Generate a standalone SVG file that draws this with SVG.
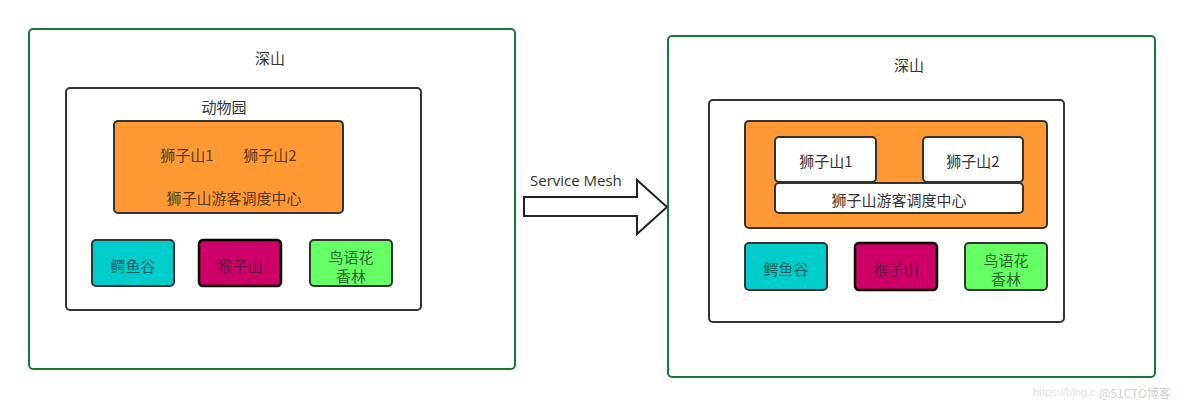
<svg xmlns="http://www.w3.org/2000/svg" width="1184" height="406" viewBox="0 0 1184 406">
<style>
text{font-family:"Microsoft YaHei","Noto Sans CJK SC",sans-serif;font-size:15px;text-anchor:middle;dominant-baseline:central;fill:#333}
.outer{fill:#fff;stroke:#137a3a;stroke-width:2}
.zoo{fill:#fff;stroke:#333;stroke-width:2}
.orange{fill:#ff9933;stroke:#333;stroke-width:2}
.white{fill:#fff;stroke:#333;stroke-width:2}
.croc{fill:#00cccc;stroke:#333;stroke-width:2}
.monkey{fill:#cc0066;stroke:#000;stroke-width:2.5}
.bird{fill:#66ff66;stroke:#333;stroke-width:2}
.to{fill:#5a3a1e}
.tc{fill:#1f6262}
.tm{fill:#6b1a40}
.tb{fill:#2a6a2a}
</style>
<g id="left-mountain">
<rect class="outer" x="29" y="29" width="486" height="340" rx="4"/>
<text x="270" y="57">深山</text>
</g>
<g id="left-zoo">
<rect class="zoo" x="66" y="88" width="355" height="222" rx="4"/>
<text x="224" y="106">动物园</text>
</g>
<g id="left-lion">
<rect class="orange" x="114" y="121" width="229" height="92" rx="4"/>
<text class="to" x="187" y="154">狮子山1</text>
<text class="to" x="270" y="154">狮子山2</text>
<text class="to" x="234" y="197">狮子山游客调度中心</text>
</g>
<g id="left-croc">
<rect class="croc" x="92" y="240" width="82" height="46" rx="4"/>
<text class="tc" x="133" y="265">鳄鱼谷</text>
</g>
<g id="left-monkey">
<rect class="monkey" x="199" y="240" width="82" height="46" rx="4"/>
<text class="tm" x="240" y="265">猴子山</text>
</g>
<g id="left-bird">
<rect class="bird" x="310" y="240" width="82" height="46" rx="4"/>
<text class="tb" x="351" y="256">鸟语花</text>
<text class="tb" x="351" y="275">香林</text>
</g>
<g id="connectors">
<path d="M524,197 L637,197 L637,180 L667,207 L637,234 L637,216 L524,216 Z" fill="#fff" stroke="#222" stroke-width="2" stroke-linejoin="miter"/>
<text x="530" y="180" style="text-anchor:start;font-family:'Segoe UI','Open Sans','Liberation Sans',sans-serif;font-size:15px">Service Mesh</text>
</g>
<g id="right-mountain">
<rect class="outer" x="668" y="36" width="487" height="341" rx="4"/>
<text x="909" y="64">深山</text>
</g>
<g id="right-zoo">
<rect class="zoo" x="709" y="100" width="355" height="222" rx="4"/>
</g>
<g id="right-lion">
<rect class="orange" x="745" y="121" width="302" height="107" rx="4"/>
</g>
<g id="right-lion1">
<rect class="white" x="775" y="137" width="101" height="45" rx="4"/>
<text x="826" y="160">狮子山1</text>
</g>
<g id="right-lion2">
<rect class="white" x="923" y="137" width="100" height="45" rx="4"/>
<text x="973" y="160">狮子山2</text>
</g>
<g id="right-center">
<rect class="white" x="775" y="183" width="248" height="30" rx="4"/>
<text x="899" y="199">狮子山游客调度中心</text>
</g>
<g id="right-croc">
<rect class="croc" x="745" y="243" width="82" height="47" rx="4"/>
<text class="tc" x="786" y="268">鳄鱼谷</text>
</g>
<g id="right-monkey">
<rect class="monkey" x="855" y="243" width="82" height="47" rx="4"/>
<text class="tm" x="896" y="268">猴子山</text>
</g>
<g id="right-bird">
<rect class="bird" x="965" y="243" width="82" height="47" rx="4"/>
<text class="tb" x="1006" y="259">鸟语花</text>
<text class="tb" x="1006" y="278">香林</text>
</g>
<g id="watermark">
<text x="1033" y="392" style="text-anchor:start;font-size:11px;fill:#e2e2e2;font-family:'Liberation Sans',sans-serif">https://blog.c</text>
<text x="1099" y="392" style="text-anchor:start;font-size:12px;fill:#d0d0d0">@51CTO博客</text>
</g>
</svg>
